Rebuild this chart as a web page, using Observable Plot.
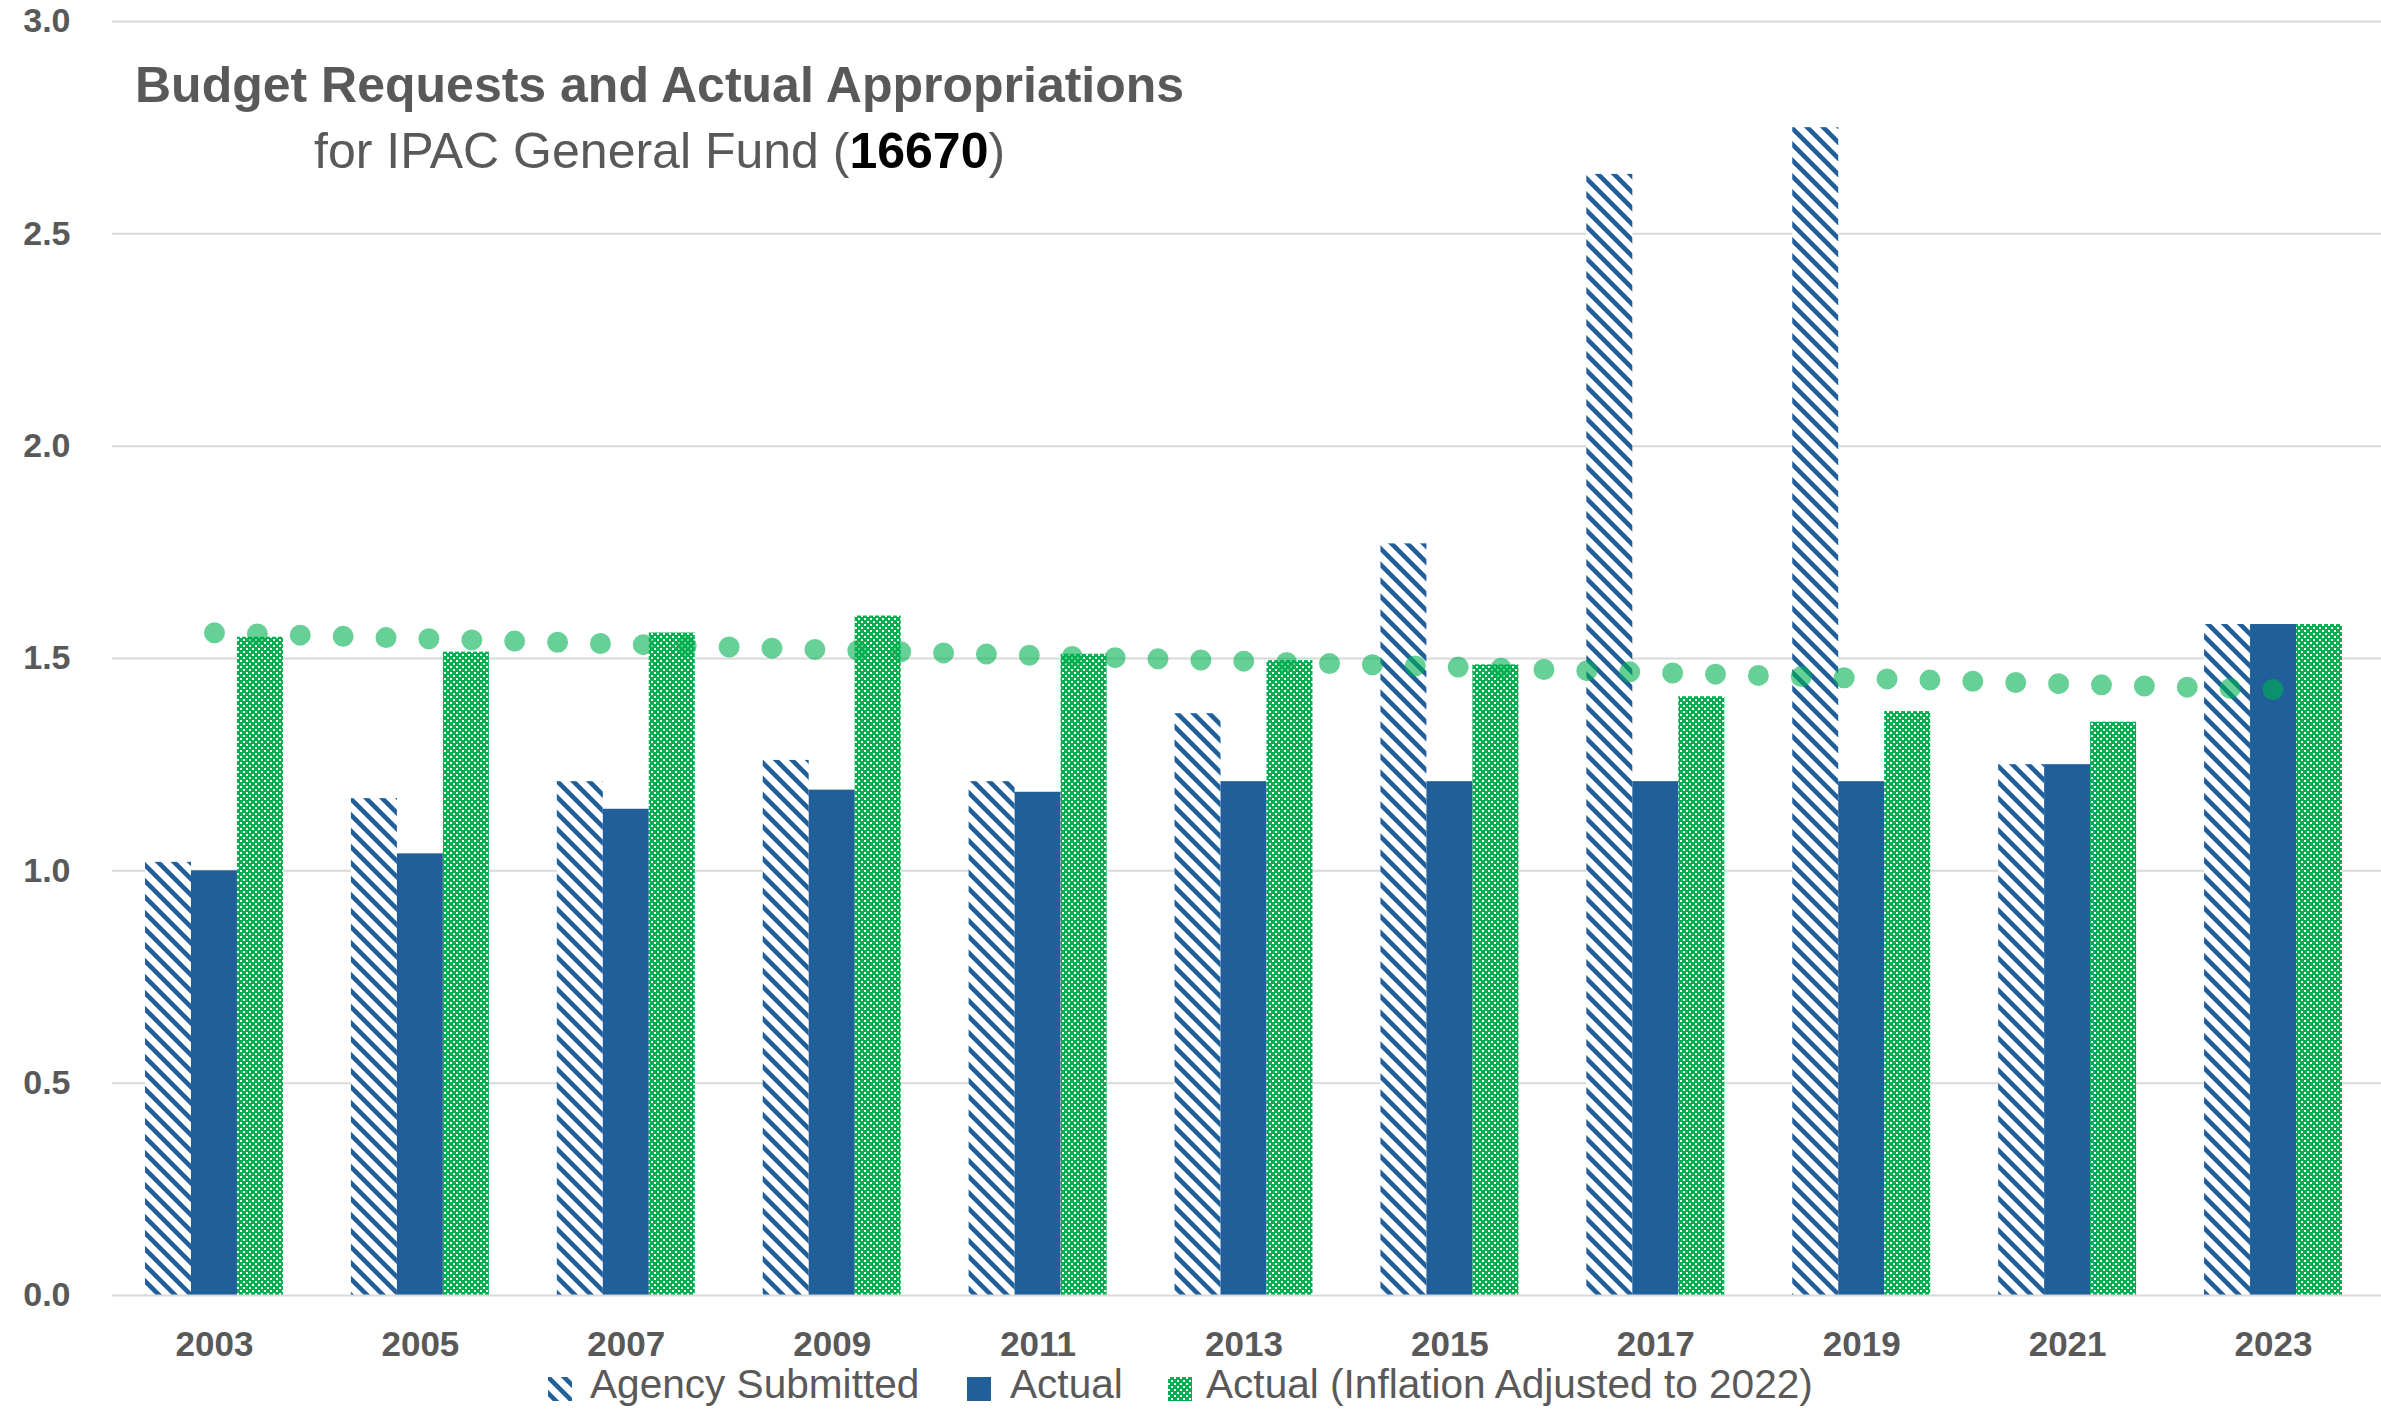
<!DOCTYPE html>
<html>
<head>
<meta charset="utf-8">
<script src="https://cdn.jsdelivr.net/npm/d3@7"></script>
<script src="https://cdn.jsdelivr.net/npm/@observablehq/plot@0.6"></script>
<style>
  body { margin: 0; background: #fff; }
  #wrap { position: relative; width: 2381px; height: 1411px; font-family: "Liberation Sans", Arial, sans-serif; background: #fff; overflow: hidden; }
  #chart svg { display: block; }
  #legend { position: absolute; left: 0; top: 1362px; width: 2381px; height: 49px; }
  .item { position: absolute; top: 0; height: 49px; }
  .sw { position: absolute; top: 15px; left: 0; width: 24px; height: 24px; display: block; }
  .lt { position: absolute; top: 2px; font-size: 40.6px; line-height: 1; color: #595959; white-space: nowrap; }
</style>
</head>
<body>
<svg width="0" height="0" style="position:absolute">
  <defs>
    <pattern id="stripes" patternUnits="userSpaceOnUse" width="16" height="16">
      <rect width="16" height="16" fill="#ffffff"></rect>
      <path d="M-4,-4 L20,20 M-4,12 L4,20 M12,-4 L20,4" stroke="#215F9A" stroke-width="4.6" fill="none"></path>
    </pattern>
    <pattern id="checks" patternUnits="userSpaceOnUse" width="6" height="6">
      <rect width="6" height="6" fill="#00B050"></rect>
      <rect x="0" y="0" width="2" height="2" fill="#ffffff"></rect>
      <rect x="3" y="3" width="2" height="2" fill="#ffffff"></rect>
    </pattern>
  </defs>
</svg>
<div id="wrap">
  <div id="chart"></div>
  <div id="legend"></div>
</div>
<script>
// ---- data ----
const years = [2003, 2005, 2007, 2009, 2011, 2013, 2015, 2017, 2019, 2021, 2023];
const agencySubmitted = [1.02, 1.17, 1.21, 1.26, 1.21, 1.37, 1.77, 2.64, 2.75, 1.25, 1.58];
const actual = [1.00, 1.04, 1.145, 1.19, 1.185, 1.21, 1.21, 1.21, 1.21, 1.25, 1.58];
const actualAdjusted = [1.55, 1.515, 1.56, 1.60, 1.51, 1.495, 1.485, 1.41, 1.375, 1.35, 1.58];
const seriesNames = ["Agency Submitted", "Actual", "Actual (Inflation Adjusted to 2022)"];
const titleText = "Budget Requests and Actual Appropriations";
const subtitleParts = ["for IPAC General Fund (", "16670", ")"];

// ---- derived table ----
const rows = years.map((year, i) => ({year, agency: agencySubmitted[i], actual: actual[i], adjusted: actualAdjusted[i]}));

// linear trendline of the inflation-adjusted series
const idx = d3.range(years.length);
const mx = d3.mean(idx), my = d3.mean(actualAdjusted);
const slope = d3.sum(idx, i => (i - mx) * (actualAdjusted[i] - my)) / d3.sum(idx, i => (i - mx) ** 2);
const trend = years.map((year, i) => ({year, value: my + slope * (i - mx)}));

// ---- layout ----
const W = 2381, H = 1372;
const xRange = [145, 2342], padInner = 0.33;
const step = (xRange[1] - xRange[0]) / (years.length - padInner);
const bw = step * (1 - padInner);
const third = bw / 3;

const blue = "#215F9A";
const green = "#00B050";
const grid = "#D9D9D9";

const svg = Plot.plot({
  width: W,
  height: H,
  marginLeft: 112,
  marginRight: 0,
  marginTop: 21,
  marginBottom: H - 1295,
  style: {fontFamily: "'Liberation Sans', Arial, sans-serif", fontSize: "34px", fontWeight: "bold", color: "#595959", background: "#fff"},
  x: {type: "band", domain: years, range: xRange, round: false, paddingInner: padInner, paddingOuter: 0, tickSize: 0, tickPadding: 36, tickFormat: d => String(d), label: null},
  y: {domain: [0, 3], ticks: 6, tickFormat: d3.format(".1f"), tickSize: 0, tickPadding: 42, label: null},
  marks: [
    Plot.ruleY(d3.ticks(0, 3, 6).filter(d => d > 0), {stroke: grid, strokeWidth: 2}),
    Plot.barY(rows, {x: "year", y: "agency", fill: "url(#stripes)", insetLeft: 0, insetRight: 2 * third}),
    Plot.barY(rows, {x: "year", y: "actual", fill: blue, insetLeft: third, insetRight: third}),
    Plot.barY(rows, {x: "year", y: "adjusted", fill: "url(#checks)", insetLeft: 2 * third, insetRight: 0}),
    Plot.ruleY([0], {stroke: grid, strokeWidth: 2}),
    Plot.line(trend, {x: "year", y: "value", stroke: green, strokeOpacity: 0.6, strokeWidth: 21, strokeLinecap: "round", strokeDasharray: "0 42.9"})
  ]
});
document.getElementById("chart").appendChild(svg);

// x tick labels slightly larger than y tick labels
d3.select(svg).selectAll('g[aria-label="x-axis tick label"] text, g[aria-label="x-axis"] text').attr("font-size", 35);

// exact dot spacing along the trendline (48 gaps, last dot at the 2023 group)
const linePath = svg.querySelector('g[aria-label="line"] path');
if (linePath) {
  const len = linePath.getTotalLength();
  linePath.setAttribute("stroke-dasharray", `0 ${(len - 0.5) / 48}`);
}

// title inside the plot area
const s = d3.select(svg);
s.append("text")
  .attr("x", 135).attr("y", 102).attr("text-anchor", "start")
  .attr("font-size", 50).attr("font-weight", "bold").attr("fill", "#595959")
  .text(titleText);
const sub = s.append("text")
  .attr("x", 314).attr("y", 168).attr("text-anchor", "start")
  .attr("font-size", 50).attr("font-weight", "normal").attr("fill", "#595959");
sub.append("tspan").text(subtitleParts[0]);
sub.append("tspan").attr("font-weight", "bold").attr("fill", "#000").text(subtitleParts[1]);
sub.append("tspan").text(subtitleParts[2]);

// ---- legend ----
const legendFills = ["url(#stripes)", blue, "url(#checks)"];
const itemLeft = [548, 967, 1168];
const textOffset = [42, 43, 38];
const legend = d3.select("#legend");
seriesNames.forEach((name, i) => {
  const item = legend.append("div").attr("class", "item").style("left", itemLeft[i] + "px");
  item.append("svg").attr("class", "sw").attr("width", 24).attr("height", 24)
    .append("rect").attr("width", 24).attr("height", 24).attr("fill", legendFills[i]);
  item.append("div").attr("class", "lt").style("left", textOffset[i] + "px").text(name);
});
</script>
</body>
</html>
